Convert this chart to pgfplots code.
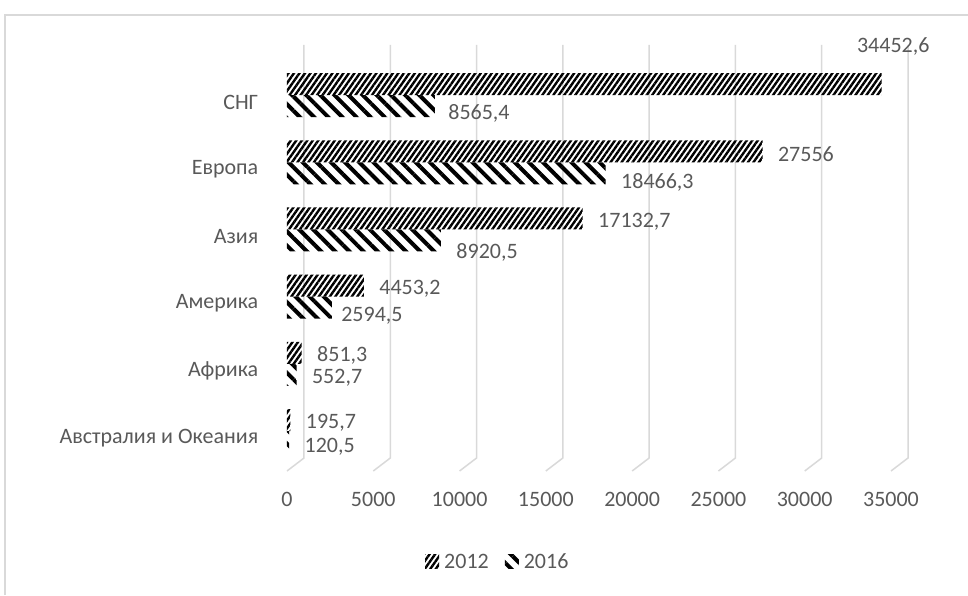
\documentclass[border=0pt]{standalone}
\usepackage{fontspec}
\setmainfont{Carlito}
\usepackage{pgfplots}
\usepackage{pgfplotstable}
\pgfplotsset{compat=1.18}
\usetikzlibrary{patterns.meta}
\definecolor{txt}{HTML}{595959}
\definecolor{gridc}{HTML}{D9D9D9}
\newcommand\fs{\fontsize{22}{26}\selectfont}

% y: 0 = Австралия и Океания ... 5 = СНГ; dx, dy move the value labels
\pgfplotstableread{
y x dx dy
0 195.7 0 -3
1 851.3 0 -3
2 4453.2 0 -3
3 17132.7 0 -3
4 27556 0 -3
5 34452.6 -40 38
}\dataA
\pgfplotstableread{
y x dx dy
0 120.5 0 -4.5
1 552.7 0 -2.5
2 2594.5 -6 -8.5
3 8920.5 0 -11.5
4 18466.3 0 -9.5
5 8565.4 -2 -7.5
}\dataB

\begin{document}
\begin{tikzpicture}
\useasboundingbox (-287pt,-124pt) rectangle (681pt,471pt);
\draw[gridc, line width=1.5pt] (-282pt,-124pt) -- (-282pt,456pt) -- (681pt,456pt);
\begin{axis}[
  scale only axis, width=604pt, height=412.6pt,
  xmin=0, xmax=35000, ymin=-0.49, ymax=5.65,
  xbar,
  clip=false,
  axis line style={draw=none}, tick style={draw=none},
  xtick={0,5000,...,35000},
  scaled x ticks=false,
  ytick={0,...,5},
  yticklabels={Австралия и Океания,Африка,Америка,Азия,Европа,СНГ},
  tick label style={font=\fs, text=txt},
  xticklabel style={yshift=-18pt},
  yticklabel style={xshift=-21pt},
  /pgf/number format/assume math mode=true,
  /pgf/number format/use comma,
  /pgf/number format/1000 sep={},
  /pgf/number format/fixed,
  /pgf/number format/precision=1,
  legend style={at={(0.349,-0.2205)}, anchor=center, draw=none, fill=none,
    font=\fs, text=txt, legend columns=2,
    /tikz/every odd column/.append style={column sep=3pt},
    /tikz/every even column/.append style={column sep=14pt}},
  legend image code/.code={\path[#1, draw=none] (0pt,-7pt) rectangle (14pt,7pt);},
  nodes near coords,
  nodes near coords style={font=\fs, text=txt, anchor=west},
  visualization depends on={\thisrow{dx} \as \dx},
  visualization depends on={\thisrow{dy} \as \dy},
  every node near coord/.append style={xshift={12+\dx}, yshift={\dy}},
]
\pgfplotsinvokeforeach{0,5000,10000,15000,20000,25000,30000,35000}{
  \draw[gridc, line width=1.5pt] (axis cs:#1,-0.49) -- ++(17pt,13pt) -- ++(0pt,413pt);
}
\addplot[bar width=22pt, bar shift=18pt, draw=none,
  pattern={Lines[angle=55,distance=4.5pt,line width=2.4pt]}, pattern color=black]
  table[x=x, y=y] {\dataA};
\addplot[bar width=22pt, bar shift=-4pt, draw=none,
  pattern={Lines[angle=-45,distance=10pt,line width=4pt]}, pattern color=black]
  table[x=x, y=y] {\dataB};
\legend{2012,2016}
\end{axis}
\end{tikzpicture}
\end{document}
